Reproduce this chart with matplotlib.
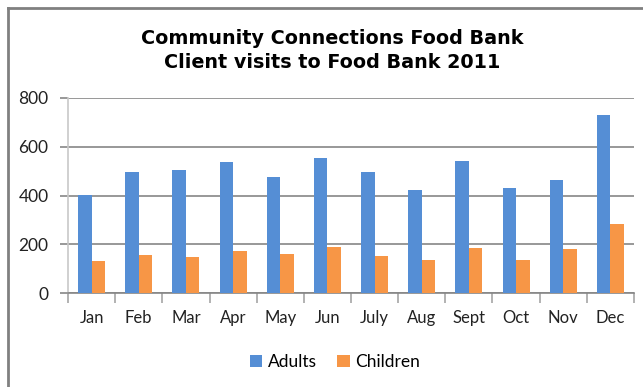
import numpy as np
import matplotlib.pyplot as plt
from matplotlib.lines import Line2D

months = ["Jan", "Feb", "Mar", "Apr", "May", "Jun", "July", "Aug", "Sept", "Oct", "Nov", "Dec"]
adults = [402, 498, 503, 539, 477, 555, 498, 424, 543, 432, 465, 732]
children = [133, 157, 149, 174, 161, 190, 153, 137, 186, 137, 182, 284]
y_ticks = [0, 200, 400, 600, 800]

blue = "#558ED5"
orange = "#F79646"
grid_col = "#868686"

plt.rcParams["font.family"] = ["Lato", "DejaVu Sans"]

fig = plt.figure(figsize=(6.43, 3.87), dpi=100)
ax = fig.add_axes([68 / 643, 1 - 293 / 387, (634 - 68) / 643, (293 - 98) / 387])

x = np.arange(len(months))
w = 0.285
ax.bar(x - w / 2, adults, w, color=blue, label="Adults", zorder=3)
ax.bar(x + w / 2, children, w, color=orange, label="Children", zorder=3)

ax.set_xlim(-0.5, len(months) - 0.5)
ax.set_ylim(0, 800)
ax.set_yticks(y_ticks)
ax.yaxis.grid(True, color=grid_col, linewidth=1.2, zorder=0)
ax.tick_params(axis="y", length=6, color=grid_col, width=1.2, pad=8, labelsize=12.5, colors="#222222")
ax.tick_params(axis="y", color=grid_col)

# category ticks sit between the months
ax.set_xticks(x)
ax.set_xticklabels(months)
ax.set_xticks(np.arange(-0.5, len(months)), minor=True)
ax.tick_params(axis="x", which="major", length=0, pad=12, labelsize=12, colors="#222222")
ax.tick_params(axis="x", which="minor", length=7, color="#A6A6A6", width=1.2)

for s in ["top", "right"]:
    ax.spines[s].set_visible(False)
ax.spines["left"].set_color("#C8C8C8")
ax.spines["left"].set_linewidth(1.2)
ax.spines["bottom"].set_color(grid_col)
ax.spines["bottom"].set_linewidth(1.2)

fig.text(332 / 643, 1 - 38 / 387, "Community Connections Food Bank", ha="center", va="center",
         fontsize=13.8, fontweight="bold", family="DejaVu Sans")
fig.text(332 / 643, 1 - 62 / 387, "Client visits to Food Bank 2011", ha="center", va="center",
         fontsize=13.8, fontweight="bold", family="DejaVu Sans")

fig.legend(loc="center", bbox_to_anchor=(335 / 643, 1 - 362 / 387), ncol=2, frameon=False,
           fontsize=12.5, handlelength=0.7, handleheight=0.7, handletextpad=0.3, columnspacing=1.2)

# outer chart border (only left and top visible in the crop)
fig.add_artist(Line2D([8 / 643, 8 / 643], [0, 1 - 8 / 387], color="#808080", linewidth=2))
fig.add_artist(Line2D([8 / 643, 1], [1 - 8 / 387, 1 - 8 / 387], color="#808080", linewidth=2))

plt.savefig("out.png", dpi=100)
